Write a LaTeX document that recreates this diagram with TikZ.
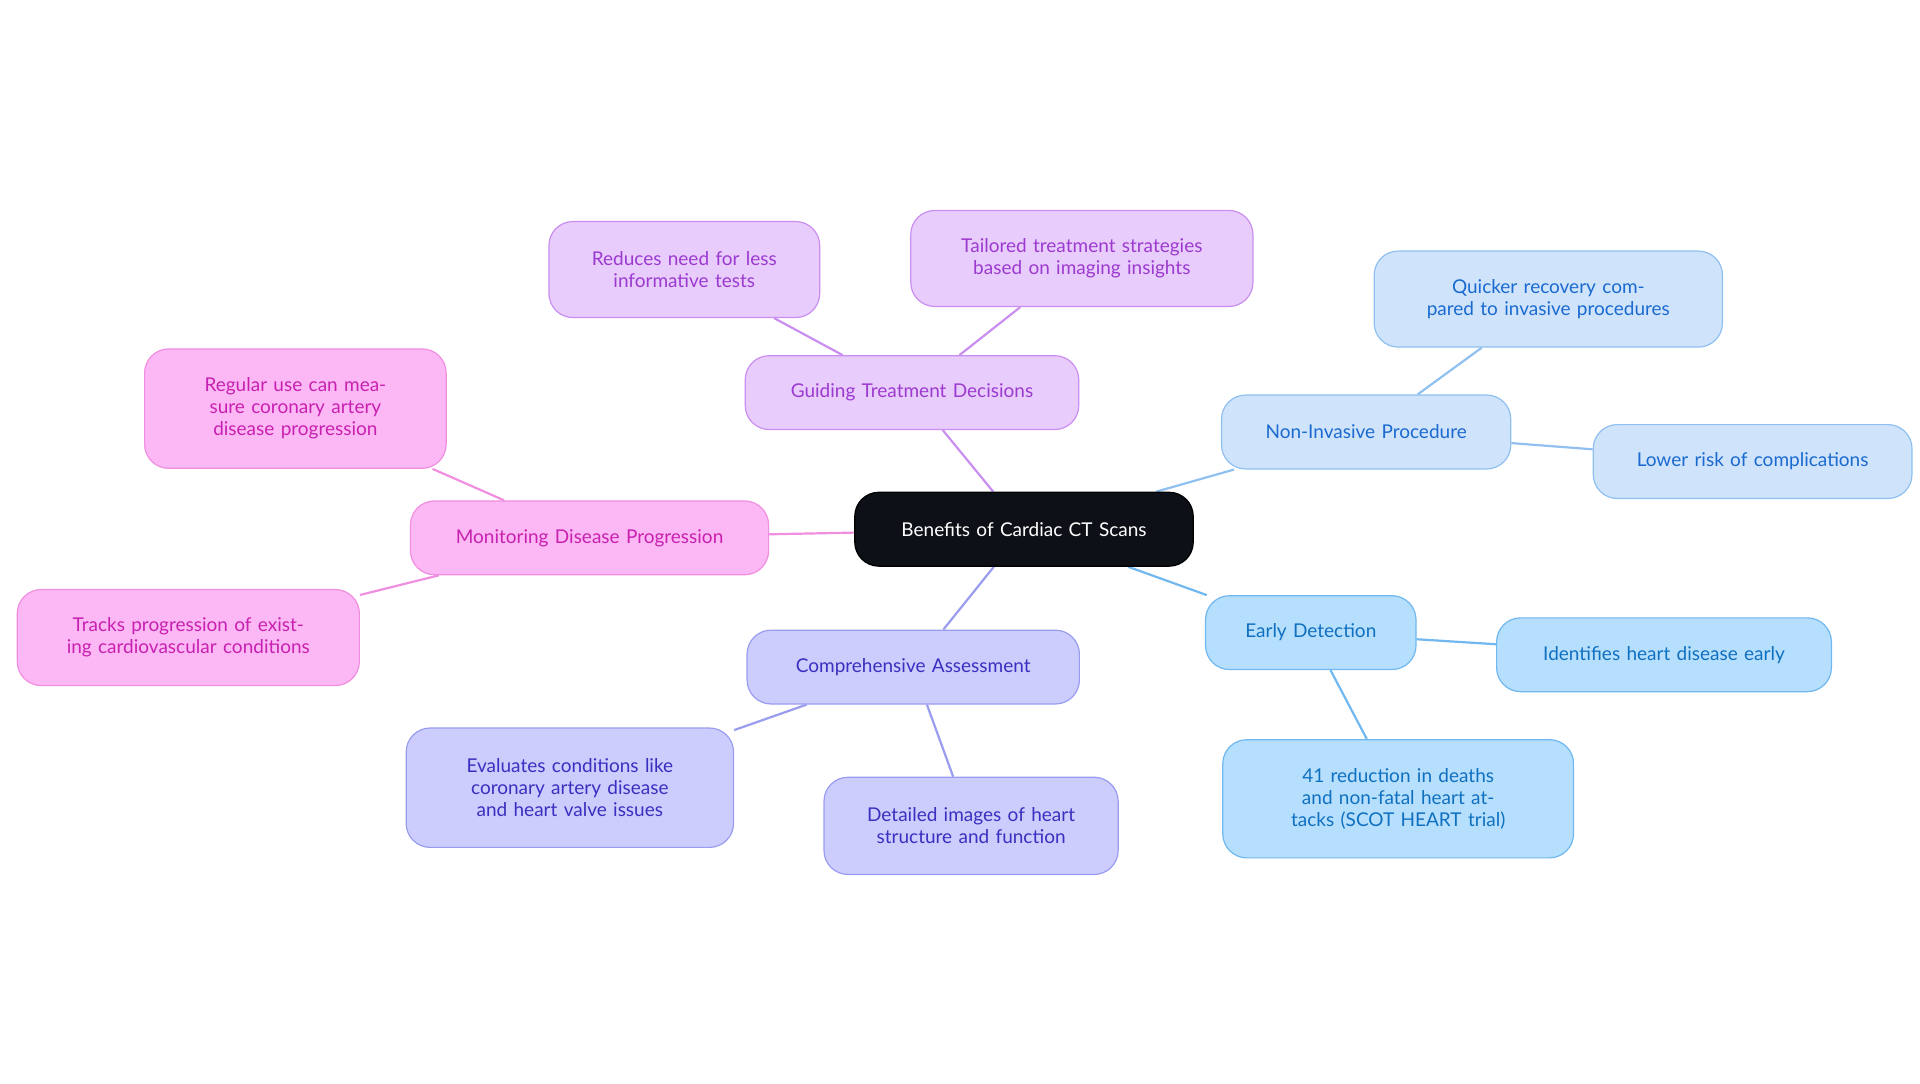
\documentclass[tikz,border=0pt]{standalone}
\usepackage{fontspec}
\setmainfont{Lato}
\usetikzlibrary{backgrounds}
\definecolor{cF}{HTML}{0D1117}
\definecolor{pF}{HTML}{E8CCFC}\definecolor{pB}{HTML}{C98EF0}\definecolor{pT}{HTML}{9C3AD0}
\definecolor{kF}{HTML}{FCB8F4}\definecolor{kB}{HTML}{F08EE0}\definecolor{kT}{HTML}{C820B0}
\definecolor{vF}{HTML}{CCCDFD}\definecolor{vB}{HTML}{9A9CF0}\definecolor{vT}{HTML}{3A2FC0}
\definecolor{nF}{HTML}{CFE3FB}\definecolor{nB}{HTML}{90C0F0}\definecolor{nT}{HTML}{1A6AD0}
\definecolor{eF}{HTML}{B5DFFC}\definecolor{eB}{HTML}{70B8EF}\definecolor{eT}{HTML}{1070C0}
\tikzset{
 box/.style n args={5}{draw=#2,fill=#1,text=#3,line width=0.6pt,rounded corners=12pt,
   minimum width=#4*0.6154pt,minimum height=#5*0.6154pt,text width=#4*0.6154pt-22pt,
   align=center,inner sep=0pt,font=\fontsize{9.5}{11}\selectfont},
 lnk/.style={line width=1.1pt,draw=#1}
}
\begin{document}
\begin{tikzpicture}[x=0.6154pt,y=-0.6154pt]
\useasboundingbox (0,0) rectangle (1560,880);
\node[box={cF}{black}{white}{275}{60}] (c) at (832,430) {Benefits of Cardiac CT Scans};
\node[box={pF}{pB}{pT}{271}{60}] (g) at (741,319) {Guiding Treatment Decisions};
\node[box={pF}{pB}{pT}{220}{78}] (g1) at (556,219) {Reduces need for less informative tests};
\node[box={pF}{pB}{pT}{278}{78}] (g2) at (879,210) {Tailored treatment strategies based on imaging insights};
\node[box={kF}{kB}{kT}{291}{60}] (m) at (479,437) {Monitoring Disease Progression};
\node[box={kF}{kB}{kT}{245}{97}] (m1) at (240,332) {Regular use can measure coronary artery disease progression};
\node[box={kF}{kB}{kT}{278}{78}] (m2) at (153,518) {Tracks progression of existing cardiovascular conditions};
\node[box={vF}{vB}{vT}{270}{60}] (a) at (742,542) {Comprehensive Assessment};
\node[box={vF}{vB}{vT}{266}{97}] (a1) at (463,640) {Evaluates conditions like coronary artery disease and heart valve issues};
\node[box={vF}{vB}{vT}{239}{79}] (a2) at (789,671) {Detailed images of heart structure and function};
\node[box={nF}{nB}{nT}{235}{60}] (n) at (1110,351) {Non-Invasive Procedure};
\node[box={nF}{nB}{nT}{283}{78}] (n1) at (1258,243) {Quicker recovery compared to invasive procedures};
\node[box={nF}{nB}{nT}{259}{60}] (n2) at (1424,375) {Lower risk of complications};
\node[box={eF}{eB}{eT}{171}{60}] (e) at (1065,514) {Early Detection};
\node[box={eF}{eB}{eT}{272}{60}] (e1) at (1352,532) {Identifies heart disease early};
\node[box={eF}{eB}{eT}{285}{96}] (e2) at (1136,649) {41 reduction in deaths and non-fatal heart attacks (SCOT HEART trial)};
\begin{scope}[on background layer]
\draw[lnk=pB] (c)--(g) (g)--(g1) (g)--(g2);
\draw[lnk=kB] (c)--(m) (m)--(m1) (m)--(m2);
\draw[lnk=vB] (c)--(a) (a)--(a1) (a)--(a2);
\draw[lnk=nB] (c)--(n) (n)--(n1) (n)--(n2);
\draw[lnk=eB] (c)--(e) (e)--(e1) (e)--(e2);
\end{scope}
\end{tikzpicture}
\end{document}
